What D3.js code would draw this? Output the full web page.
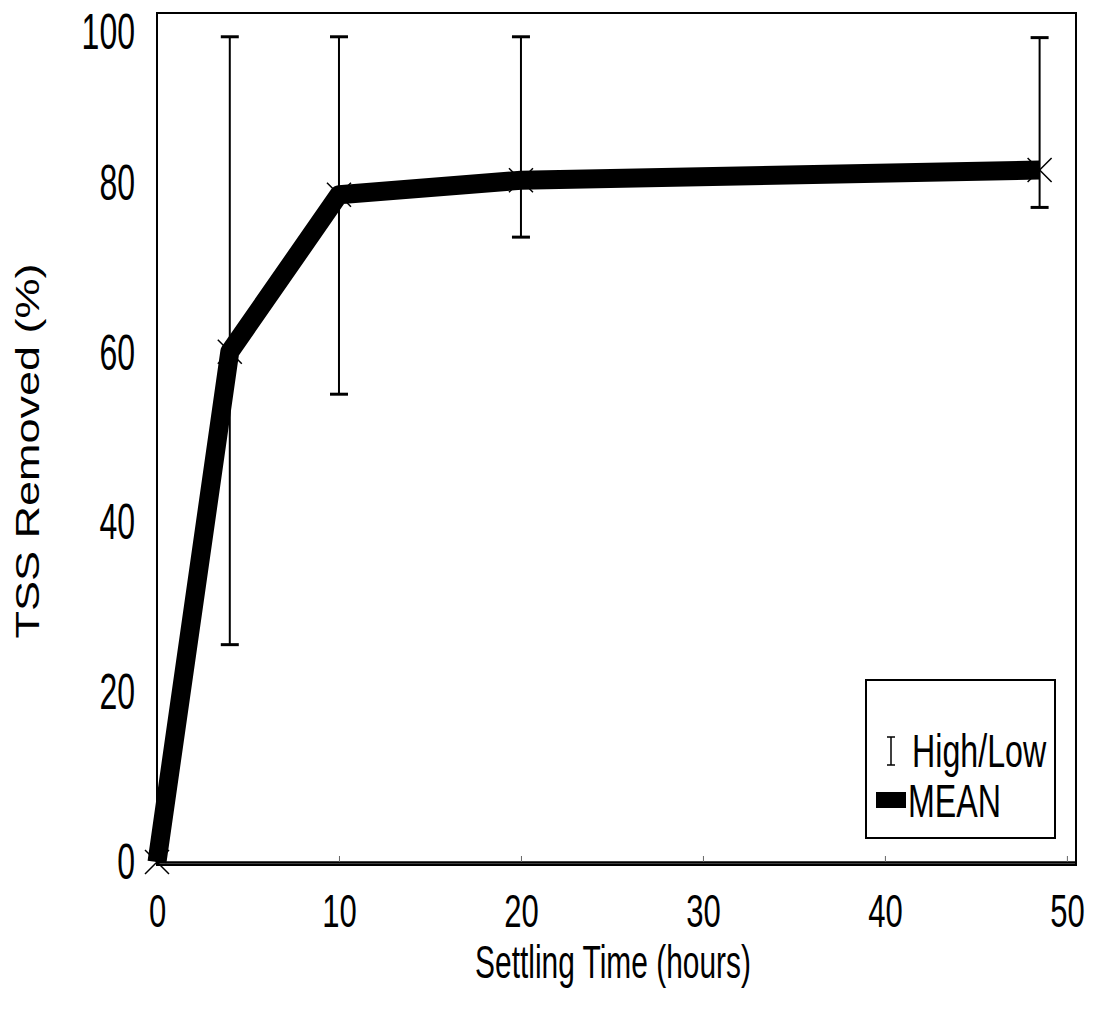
<!DOCTYPE html>
<html>
<head>
<meta charset="utf-8">
<script src="https://cdn.jsdelivr.net/npm/d3@7"></script>
<style>
  body { margin: 0; background: #fff; }
  svg text { fill: #000; }
</style>
</head>
<body>
<div id="wrapper"></div>
<script>
// settling time (hours) and TSS removal (%)
const hours = [0, 4, 10, 20, 48.5]
const meanRemoved = [0, 60.1, 78.6, 80.3, 81.5]
const highRemoved = [null, 97.2, 97.2, 97.2, 97.1]
const lowRemoved = [null, 25.6, 55.1, 73.6, 77.1]
const xTicks = [0, 10, 20, 30, 40, 50]
const yTicks = [0, 20, 40, 60, 80, 100]

const dataset = hours.map((h, i) => ({
    hours: h,
    mean: meanRemoved[i],
    high: highRemoved[i],
    low: lowRemoved[i],
}))

const xAccessor = d => d.hours
const yAccessor = d => d.mean

let dimensions = {
    width: 1096,
    height: 1026,
    margin: { top: 13, right: 20, bottom: 161, left: 157 },
}
dimensions.boundedWidth = dimensions.width - dimensions.margin.left - dimensions.margin.right
dimensions.boundedHeight = dimensions.height - dimensions.margin.top - dimensions.margin.bottom

const font = "'Liberation Sans', Arial, sans-serif"

// no narrow font installed, so squeeze the regular one horizontally
const condense = (sel, factor) => sel.each(function () {
    const x = +this.getAttribute("x") || 0
    d3.select(this)
        .attr("x", x / factor)
        .attr("transform", `scale(${factor},1)`)
})

const wrapper = d3.select("#wrapper")
    .append("svg")
    .attr("width", dimensions.width)
    .attr("height", dimensions.height)

const bounds = wrapper.append("g")
    .attr("transform", `translate(${dimensions.margin.left},${dimensions.margin.top})`)

const xScaler = d3.scaleLinear()
    .domain([0, 50.5])
    .range([0, dimensions.boundedWidth])

const yScaler = d3.scaleLinear()
    .domain([0, 100])
    .range([849, 0])

// frame
bounds.append("rect")
    .attr("x", 0)
    .attr("y", 0)
    .attr("width", dimensions.boundedWidth)
    .attr("height", dimensions.boundedHeight)
    .attr("fill", "none")
    .attr("stroke", "#000")
    .attr("stroke-width", 2)

// axes
const xAxisGen = d3.axisBottom(xScaler)
    .tickValues(xTicks)
    .tickSizeInner(-6)
    .tickSizeOuter(0)
    .tickPadding(32)
    .tickFormat(d3.format("d"))

const xAxis = bounds.append("g")
    .attr("transform", `translate(0,${yScaler(0)})`)
    .call(xAxisGen)
xAxis.select(".domain").attr("stroke-width", 2.5)
xAxis.selectAll("line").attr("stroke", "#666")
xAxis.selectAll("text")
    .attr("font-family", font)
    .attr("font-size", "47px")
    .attr("fill", "#000")
    .call(condense, 0.66)

const yAxisGen = d3.axisLeft(yScaler)
    .tickValues(yTicks)
    .tickSize(0)
    .tickPadding(22)

const yAxis = bounds.append("g").call(yAxisGen)
yAxis.select(".domain").remove()
yAxis.selectAll("text")
    .attr("font-family", font)
    .attr("font-size", "50px")
    .attr("dy", d => d === 100 ? "0.7em" : "0.33em")
    .attr("fill", "#000")
    .call(condense, 0.64)

// error bars
const barData = dataset.filter(d => d.high != null)
const errGroup = bounds.append("g")
errGroup.selectAll("line.whisker")
    .data(barData)
    .join("line")
    .attr("class", "whisker")
    .attr("x1", d => xScaler(xAccessor(d)))
    .attr("x2", d => xScaler(xAccessor(d)))
    .attr("y1", d => yScaler(d.high))
    .attr("y2", d => yScaler(d.low))
    .attr("stroke", "#000")
    .attr("stroke-width", 2)

const capWidth = 9
;["high", "low"].forEach(key => {
    errGroup.selectAll(`line.cap-${key}`)
        .data(barData)
        .join("line")
        .attr("class", `cap-${key}`)
        .attr("x1", d => xScaler(xAccessor(d)) - capWidth)
        .attr("x2", d => xScaler(xAccessor(d)) + capWidth)
        .attr("y1", d => yScaler(d[key]))
        .attr("y2", d => yScaler(d[key]))
        .attr("stroke", "#000")
        .attr("stroke-width", 3)
})

// mean line
const lineGen = d3.line()
    .x(d => xScaler(xAccessor(d)))
    .y(d => yScaler(yAccessor(d)))

bounds.append("path")
    .datum(dataset)
    .attr("d", lineGen)
    .attr("fill", "none")
    .attr("stroke", "#000")
    .attr("stroke-width", 19)
    .attr("stroke-linejoin", "round")

// x markers
const markSize = 12
bounds.append("g")
    .selectAll("path")
    .data(dataset)
    .join("path")
    .attr("d", d => {
        const cx = xScaler(xAccessor(d))
        const cy = yScaler(yAccessor(d))
        return `M${cx - markSize},${cy - markSize}L${cx + markSize},${cy + markSize}` +
            `M${cx - markSize},${cy + markSize}L${cx + markSize},${cy - markSize}`
    })
    .attr("stroke", "#000")
    .attr("stroke-width", 1.5)

// legend
const legend = bounds.append("g")
    .attr("transform", `translate(${866 - dimensions.margin.left},${680 - dimensions.margin.top})`)

legend.append("rect")
    .attr("width", 189)
    .attr("height", 158)
    .attr("fill", "#fff")
    .attr("stroke", "#000")
    .attr("stroke-width", 2)

legend.append("line")
    .attr("x1", 25).attr("x2", 25)
    .attr("y1", 57).attr("y2", 85)
    .attr("stroke", "#000").attr("stroke-width", 1.5)
legend.append("line")
    .attr("x1", 21).attr("x2", 29)
    .attr("y1", 57).attr("y2", 57)
    .attr("stroke", "#000").attr("stroke-width", 1.5)
legend.append("line")
    .attr("x1", 21).attr("x2", 29)
    .attr("y1", 85).attr("y2", 85)
    .attr("stroke", "#000").attr("stroke-width", 1.5)

legend.append("text")
    .attr("x", 46)
    .attr("y", 87)
    .attr("font-family", font)
    .attr("font-size", "46px")
    .text("High/Low")
    .call(condense, 0.7)

legend.append("rect")
    .attr("x", 10)
    .attr("y", 112)
    .attr("width", 30)
    .attr("height", 16)
    .attr("fill", "#000")

legend.append("text")
    .attr("x", 42)
    .attr("y", 137)
    .attr("font-family", font)
    .attr("font-size", "46px")
    .text("MEAN")
    .call(condense, 0.7)

// axis titles
wrapper.append("text")
    .attr("x", 613)
    .attr("y", 978)
    .attr("text-anchor", "middle")
    .attr("font-family", font)
    .attr("font-size", "46px")
    .text("Settling Time (hours)")
    .call(condense, 0.65)

wrapper.append("text")
    .attr("transform", "translate(39,451) rotate(-90)")
    .attr("text-anchor", "middle")
    .attr("font-family", font)
    .attr("font-size", "34px")
    .text("TSS Removed (%)")
    .attr("textLength", 375)
    .attr("lengthAdjust", "spacingAndGlyphs")
</script>
</body>
</html>
